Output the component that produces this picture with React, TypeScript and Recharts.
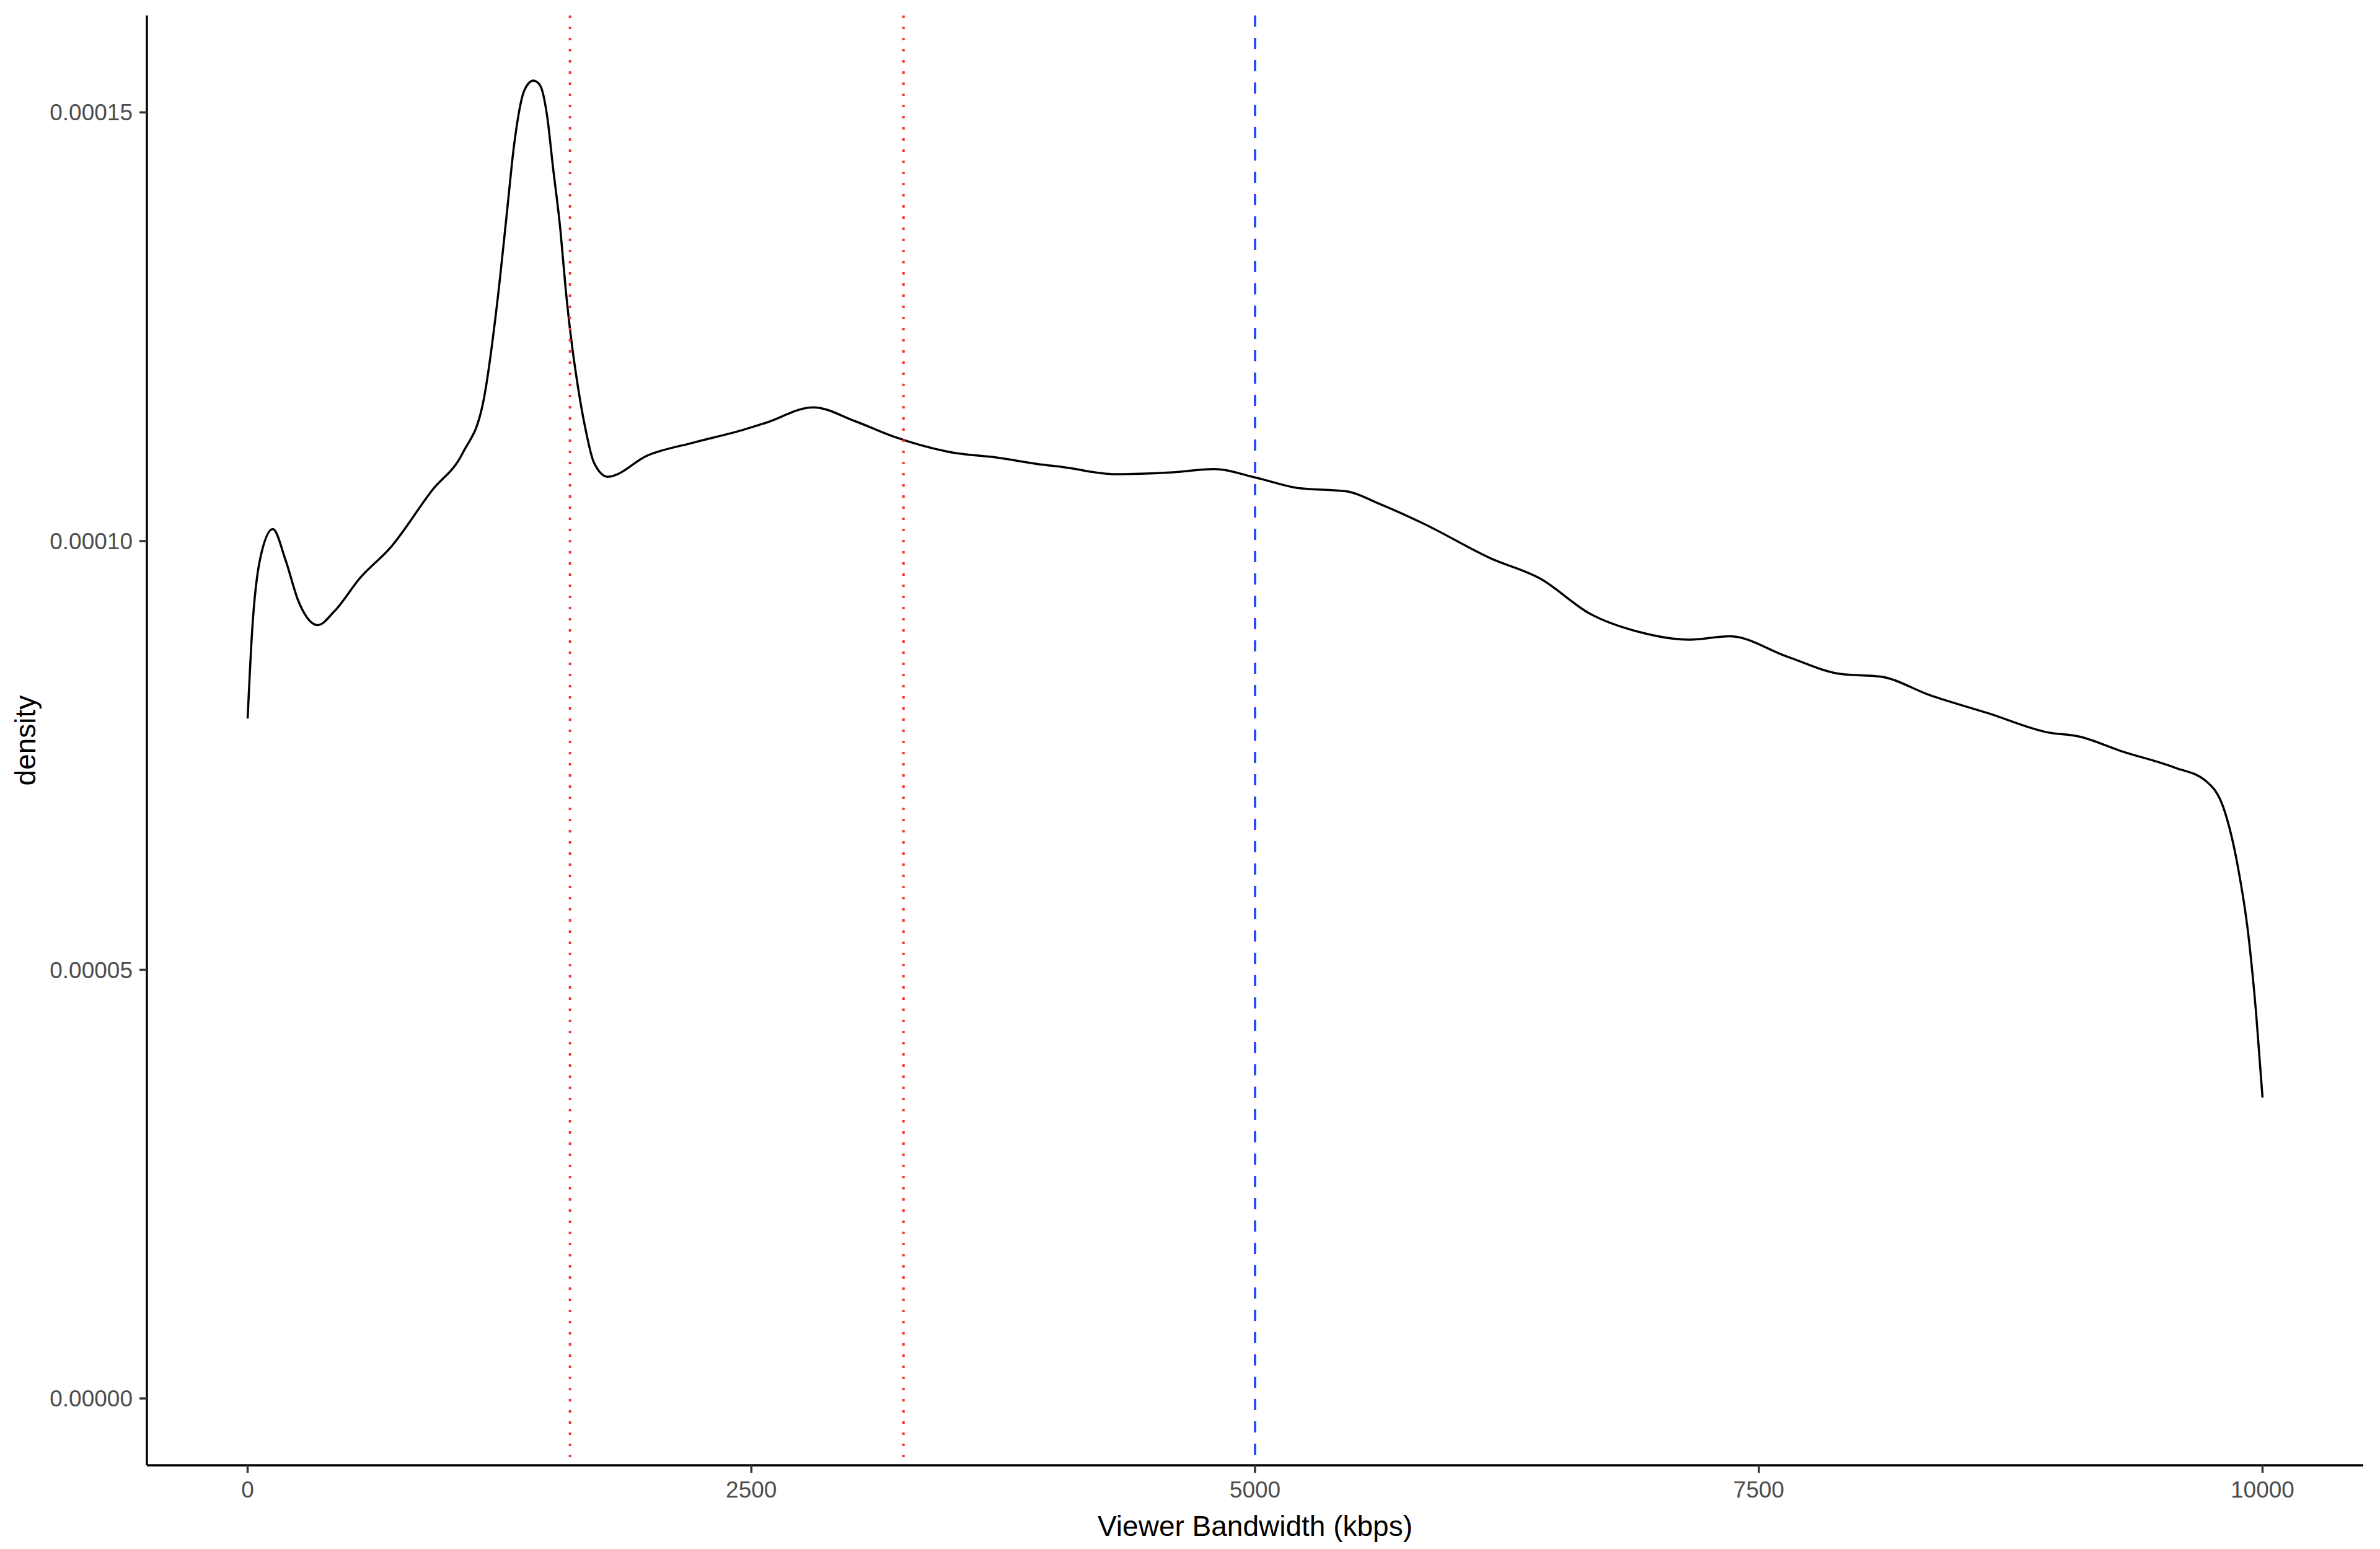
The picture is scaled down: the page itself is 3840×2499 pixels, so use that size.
import React from 'react';
import { LineChart, Line, XAxis, YAxis, ReferenceLine, Label } from 'recharts';

// bandwidth (kbps) sample points along the density curve
const bandwidth = [
  0, 22, 61, 125, 188, 252, 348, 430, 558, 711, 915, 1068, 1170, 1247, 1285, 1323,
  1374, 1418, 1450, 1488, 1514, 1553, 1578, 1603, 1642, 1680, 1718, 1787, 1986, 2215,
  2463, 2573, 2807, 3013, 3204, 3505, 3699, 3918, 4056, 4302, 4577, 4797, 5003, 5209,
  5455, 5621, 5839, 6168, 6417, 6664, 6906, 7157, 7354, 7643, 7906, 8103, 8352, 8641,
  8930, 9090, 9299, 9562, 9720, 9812, 9877, 9929, 9969, 10000,
];

// density values, in units of 1e-5
const densityE5 = [
  7.93, 8.94, 9.78, 10.14, 9.78, 9.3, 9.02, 9.18, 9.57, 9.93, 10.59, 11.03, 11.63, 12.95, 13.79, 14.63,
  15.26, 15.37, 15.32, 14.93, 14.39, 13.61, 12.95, 12.41, 11.76, 11.27, 10.92, 10.75, 11.0, 11.15,
  11.3, 11.38, 11.56, 11.4, 11.22, 11.03, 10.98, 10.9, 10.86, 10.78, 10.8, 10.84, 10.74, 10.62,
  10.58, 10.43, 10.2, 9.8, 9.56, 9.15, 8.94, 8.85, 8.89, 8.65, 8.45, 8.42, 8.2, 7.99,
  7.77, 7.72, 7.55, 7.36, 7.2, 6.85, 6.21, 5.42, 4.47, 3.51,
];

const xTicks = [0, 2500, 5000, 7500, 10000];
const yTicks = [0, 0.00005, 0.0001, 0.00015];
const xDomain = [-500, 10500];
const yDomain = [-0.0000078, 0.0001613];
const quantileLines = [1600, 3255];
const targetLine = 5000;

const data = bandwidth.map((x, i) => ({ x, y: densityE5[i] * 1e-5 }));

const FONT = '"Liberation Sans", Arial, Helvetica, sans-serif';
const tickStyle = { fill: '#4D4D4D', fontSize: 37, fontFamily: FONT };

function XTitle(props: any) {
  const vb = props.viewBox || {};
  return (
    <text x={vb.x + vb.width / 2} y={vb.y + 114} textAnchor="middle" fontSize={46} fontFamily={FONT} fill="#000">
      Viewer Bandwidth (kbps)
    </text>
  );
}

function YTitle(props: any) {
  const vb = props.viewBox || {};
  const x = vb.x + 57;
  const y = vb.y + vb.height / 2;
  return (
    <text x={x} y={y} transform={`rotate(-90, ${x}, ${y})`} textAnchor="middle" fontSize={46} fontFamily={FONT} fill="#000">
      density
    </text>
  );
}

export default function App() {
  return (
    <div style={{ position: 'absolute', left: 0, top: 0, width: 3840, height: 2499, background: '#fff' }}>
      <LineChart width={3840} height={2499} data={data} margin={{ top: 25, right: 27, bottom: 0, left: 0 }}>
        <XAxis
          type="number"
          dataKey="x"
          domain={xDomain}
          ticks={xTicks}
          height={135}
          tickSize={12}
          tickMargin={14}
          tick={tickStyle}
          axisLine={{ stroke: '#000', strokeWidth: 3.5 }}
          tickLine={{ stroke: '#333', strokeWidth: 3.5 }}
        >
          <Label content={<XTitle />} />
        </XAxis>
        <YAxis
          type="number"
          dataKey="y"
          domain={yDomain}
          ticks={yTicks}
          width={237}
          tickSize={12}
          tickMargin={11}
          tick={tickStyle}
          tickFormatter={(v: number) => v.toFixed(5)}
          axisLine={{ stroke: '#000', strokeWidth: 3.5 }}
          tickLine={{ stroke: '#333', strokeWidth: 3.5 }}
        >
          <Label content={<YTitle />} />
        </YAxis>
        <Line
          type="monotone"
          dataKey="y"
          stroke="#000"
          strokeWidth={3.5}
          dot={false}
          activeDot={false}
          isAnimationActive={false}
        />
        {quantileLines.map((q) => (
          <ReferenceLine
            key={q}
            segment={[{ x: q, y: yDomain[1] }, { x: q, y: yDomain[0] }]}
            stroke="#F2352B"
            strokeWidth={4}
            strokeDasharray="4 14"
          />
        ))}
        <ReferenceLine
          segment={[{ x: targetLine, y: yDomain[1] }, { x: targetLine, y: yDomain[0] }]}
          stroke="#1A3CFF"
          strokeWidth={3.5}
          strokeDasharray="18 18"
        />
      </LineChart>
    </div>
  );
}
